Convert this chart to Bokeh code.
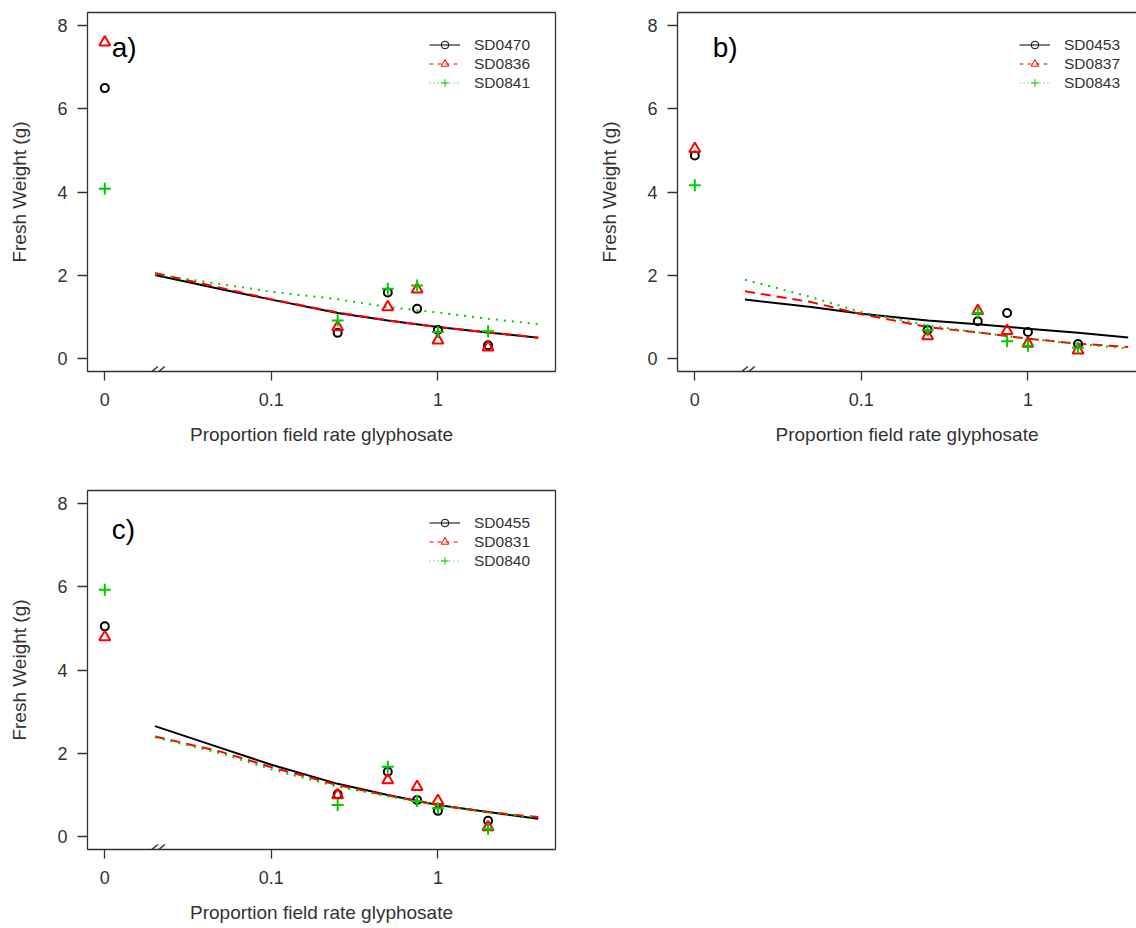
import math
from bokeh.plotting import figure
from bokeh.layouts import column, row
from bokeh.models import (FixedTicker, Legend, LegendItem, Label, Arrow,
                          LinearAxis, Range1d)
from bokeh.embed import file_html
from bokeh.resources import INLINE

# ---------------- data ----------------
doses = [0, 0.25, 0.5, 0.75, 1, 2]          # proportion of field rate
zero_pos = 0.01                               # where dose 0 is shown on the log axis
curve_x = [0.02, 0.05, 0.1, 0.25, 0.5, 1, 2, 4]

x_ticks = [0.01, 0.1, 1]
x_tick_labels = ["0", "0.1", "1"]
y_ticks = [0, 2, 4, 6, 8]

# panel a
a_names = ["SD0470", "SD0836", "SD0841"]
a_pts_black = [6.50, 0.61, 1.58, 1.19, 0.68, 0.31]
a_pts_red = [7.60, 0.75, 1.23, 1.66, 0.43, 0.26]
a_pts_green = [4.08, 0.91, 1.67, 1.75, 0.63, 0.65]
a_fit_black = [2.00, 1.66, 1.41, 1.09, 0.91, 0.75, 0.62, 0.49]
a_fit_red = [2.05, 1.69, 1.42, 1.10, 0.91, 0.75, 0.62, 0.50]
a_fit_green = [2.02, 1.78, 1.60, 1.42, 1.23, 1.10, 0.95, 0.82]

# panel b
b_names = ["SD0453", "SD0837", "SD0843"]
b_pts_black = [4.88, 0.68, 0.89, 1.09, 0.63, 0.34]
b_pts_red = [5.04, 0.53, 1.14, 0.66, 0.35, 0.19]
b_pts_green = [4.16, 0.67, 1.09, 0.41, 0.30, 0.25]
b_fit_black = [1.41, 1.23, 1.07, 0.91, 0.82, 0.71, 0.61, 0.50]
b_fit_red = [1.61, 1.35, 1.06, 0.75, 0.62, 0.47, 0.35, 0.27]
b_fit_green = [1.89, 1.47, 1.11, 0.79, 0.62, 0.47, 0.34, 0.23]

# panel c
c_names = ["SD0455", "SD0831", "SD0840"]
c_pts_black = [5.05, 1.01, 1.55, 0.87, 0.61, 0.37]
c_pts_red = [4.79, 0.99, 1.35, 1.19, 0.85, 0.22]
c_pts_green = [5.93, 0.75, 1.67, 0.85, 0.67, 0.18]
c_fit_black = [2.65, 2.12, 1.72, 1.26, 0.99, 0.75, 0.58, 0.42]
c_fit_red = [2.40, 2.03, 1.66, 1.23, 0.98, 0.75, 0.58, 0.46]
c_fit_green = [2.38, 1.99, 1.61, 1.19, 0.96, 0.74, 0.57, 0.45]

# ---------------- styling ----------------
COLORS = ["#000000", "#FF0000", "#00CD00"]
MARKERS = ["circle", "triangle", "cross"]
MSIZE = [8, 11, 12]
FIT_DASH = ["solid", "10 6", "2 6"]
LEG_DASH = ["solid", "4 4", "1 3"]
FONT = "Liberation Sans"
TXT = "#333333"
NAN = float("nan")

X_START = 10 ** (-2.104)
X_END = 10 ** (0.706)
Y_RANGE = (-0.32, 8.32)
FRAME_W = 468


def make_panel(tag, tag_x, tag_y, names, pts, fits, width, height,
               mb_top, mb_bottom, mb_right, x_end, open_right=False):
    p = figure(width=width, height=height, x_axis_type="log",
               x_range=Range1d(X_START, x_end), y_range=Range1d(*Y_RANGE),
               output_backend="svg", toolbar_location=None,
               min_border_left=87, min_border_right=mb_right,
               min_border_top=mb_top, min_border_bottom=mb_bottom,
               background_fill_color="white", border_fill_color="white")
    p.grid.visible = False

    # x axis
    xa = p.xaxis[0]
    xa.ticker = FixedTicker(ticks=x_ticks)
    xa.major_label_overrides = {t: l for t, l in zip(x_ticks, x_tick_labels)}
    xa.axis_label = "Proportion field rate glyphosate"
    # y axis
    ya = p.yaxis[0]
    ya.ticker = FixedTicker(ticks=y_ticks)
    ya.axis_label = "Fresh Weight (g)"
    for ax in (xa, ya):
        ax.minor_tick_line_color = None
        ax.major_tick_in = 0
        ax.major_tick_line_color = "#333333"
        ax.major_tick_line_width = 1.3
        ax.major_label_text_font = FONT
        ax.major_label_text_font_size = "18px"
        ax.major_label_text_color = TXT
        ax.axis_label_text_font = FONT
        ax.axis_label_text_font_size = "19px"
        ax.axis_label_text_font_style = "normal"
        ax.axis_label_text_color = TXT
    xa.major_tick_out = 9
    xa.major_label_standoff = 12
    xa.axis_label_standoff = 15
    ya.major_tick_out = 10
    ya.major_label_standoff = 10
    ya.axis_label_standoff = 24
    ya.major_label_orientation = "horizontal"

    if open_right:
        p.outline_line_color = None
        for ax in (xa, ya):
            ax.axis_line_color = "#333333"
            ax.axis_line_width = 1.3
        top = LinearAxis(ticker=FixedTicker(ticks=[]), major_tick_line_color=None,
                         minor_tick_line_color=None, major_label_text_font_size="0px",
                         axis_line_color="#333333", axis_line_width=1.3,
                         major_label_standoff=0)
        p.add_layout(top, "above")
    else:
        for ax in (xa, ya):
            ax.axis_line_color = None
        p.outline_line_color = "#333333"
        p.outline_line_width = 1.3

    # fitted curves and observations
    items = []
    for i in range(3):
        p.line(curve_x, fits[i], line_color=COLORS[i], line_width=2,
               line_dash=FIT_DASH[i])
    xs = [zero_pos if d == 0 else d for d in doses]
    for i in range(3):
        p.scatter(xs, pts[i], marker=MARKERS[i], size=MSIZE[i],
                  line_color=COLORS[i], fill_color=None, line_width=2)
    # legend-only renderers (no visible data)
    for i in range(3):
        lr = p.line(x=[NAN, NAN], y=[NAN, NAN], line_color=COLORS[i], line_width=1,
                    line_dash=LEG_DASH[i])
        mr = p.scatter(x=[NAN], y=[NAN], marker=MARKERS[i], line_color=COLORS[i],
                       fill_color=None, line_width=1)
        items.append(LegendItem(label=names[i], renderers=[lr, mr]))

    frame_h = height - mb_top - mb_bottom
    leg = Legend(items=items, location=(342, frame_h - 23 - 57),
                 border_line_color=None, background_fill_alpha=0,
                 padding=0, margin=0, spacing=0, glyph_width=31,
                 glyph_height=19, label_height=19, label_standoff=14,
                 label_text_font=FONT, label_text_font_size="15.5px",
                 label_text_color=TXT)
    p.add_layout(leg, "center")

    # panel tag
    p.add_layout(Label(x=tag_x, y=tag_y, text=tag, text_font=FONT,
                       text_font_size="28px", text_color="black",
                       text_baseline="middle", text_align="left"))

    # axis break marks "//"
    px_per_dec = FRAME_W / (math.log10(X_END) - math.log10(X_START))
    dy = 5.0 * (Y_RANGE[1] - Y_RANGE[0]) / frame_h
    for off in (47, 54):
        c = math.log10(zero_pos) + off / px_per_dec
        p.add_layout(Arrow(end=None, x_start=10 ** (c - 6 / px_per_dec),
                           y_start=Y_RANGE[0] - dy,
                           x_end=10 ** (c + 6 / px_per_dec),
                           y_end=Y_RANGE[0] + dy,
                           line_color="#333333", line_width=1.5))
    return p


pa = make_panel("a)", 0.0110, 7.48, a_names,
                [a_pts_black, a_pts_red, a_pts_green],
                [a_fit_black, a_fit_red, a_fit_green],
                590, 465, 12, 94, 35, X_END)

b_frame_w = 546 - 87
b_x_end = 10 ** (math.log10(X_START) + (math.log10(X_END) - math.log10(X_START)) * b_frame_w / FRAME_W)
pb = make_panel("b)", 0.0128, 7.48, b_names,
                [b_pts_black, b_pts_red, b_pts_green],
                [b_fit_black, b_fit_red, b_fit_green],
                546, 465, 12, 94, 0, b_x_end, open_right=True)

pc = make_panel("c)", 0.0110, 7.38, c_names,
                [c_pts_black, c_pts_red, c_pts_green],
                [c_fit_black, c_fit_red, c_fit_green],
                590, 463, 25, 79, 35, X_END)

layout = column(row(pa, pb), pc)
open("out.html", "w").write(file_html(layout, INLINE))
